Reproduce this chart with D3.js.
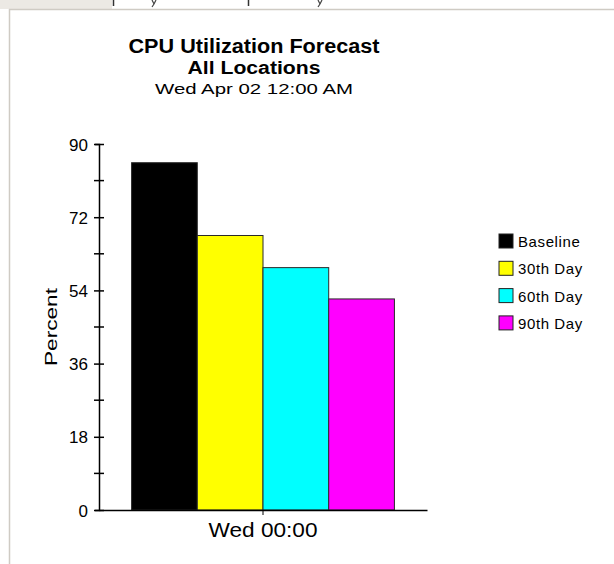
<!DOCTYPE html>
<html>
<head>
<meta charset="utf-8">
<script src="https://cdn.jsdelivr.net/npm/d3@7"></script>
<style>
  body { margin: 0; background: #fff; }
  text { font-family: "Liberation Sans", Arial, sans-serif; fill: #000; }
</style>
</head>
<body>
<svg id="chart"></svg>
<script>
const WIDTH = 614;
const HEIGHT = 564;

// data
const categories = ["Wed 00:00"];
const seriesNames = ["Baseline", "30th Day", "60th Day", "90th Day"];
const seriesValues = [85.4, 67.5, 59.6, 51.9];
const seriesColors = ["#000000", "#ffff00", "#00ffff", "#ff00ff"];
const yTicks = [0, 18, 36, 54, 72, 90];
const yMinorTicks = [9, 27, 45, 63, 81];

const margin = {top: 144, right: 187, bottom: 54, left: 99};

const svg = d3.select("#chart")
    .attr("width", WIDTH)
    .attr("height", HEIGHT);

svg.append("rect").attr("width", WIDTH).attr("height", HEIGHT).attr("fill", "#fff");

// window chrome above the frame (bits of the page header that got cut off)
svg.append("rect").attr("x", 0).attr("y", 0).attr("width", 112).attr("height", 9).attr("fill", "#ece9e4");
[113, 248].forEach(x => {
    svg.append("line").attr("x1", x + 0.5).attr("x2", x + 0.5).attr("y1", 0).attr("y2", 6)
        .attr("stroke", "#333").attr("stroke-width", 1.5);
});
[152, 318].forEach(x => {
    svg.append("path")
        .attr("d", `M${x},0 L${x + 2},4 L${x},7 M${x + 2},4 L${x + 4},0`)
        .attr("fill", "none").attr("stroke", "#444").attr("stroke-width", 1.2);
});

// frame
svg.append("line").attr("x1", 9).attr("x2", WIDTH).attr("y1", 9.5).attr("y2", 9.5)
    .attr("stroke", "#cfcbc4").attr("stroke-width", 1.5);
svg.append("line").attr("x1", 9.5).attr("x2", 9.5).attr("y1", 9).attr("y2", HEIGHT)
    .attr("stroke", "#cfcbc4").attr("stroke-width", 1.5);

// titles
const cx = 254;
svg.append("text").attr("x", cx).attr("y", 53).attr("text-anchor", "middle")
    .attr("textLength", 251).attr("lengthAdjust", "spacingAndGlyphs")
    .style("font-size", "20px").style("font-weight", "bold")
    .text("CPU Utilization Forecast");
svg.append("text").attr("x", cx).attr("y", 74).attr("text-anchor", "middle")
    .attr("textLength", 133).attr("lengthAdjust", "spacingAndGlyphs")
    .style("font-size", "18px").style("font-weight", "bold")
    .text("All Locations");
svg.append("text").attr("x", cx).attr("y", 94).attr("text-anchor", "middle")
    .attr("textLength", 198).attr("lengthAdjust", "spacingAndGlyphs")
    .style("font-size", "14px")
    .text("Wed Apr 02 12:00 AM");

// scales
const x0 = d3.scaleBand()
    .domain(categories)
    .range([margin.left, WIDTH - margin.right])
    .paddingInner(0)
    .paddingOuter(0.124);

const x1 = d3.scaleBand()
    .domain(seriesNames)
    .range([0, x0.bandwidth()]);

const y = d3.scaleLinear()
    .domain([0, 90])
    .range([HEIGHT - margin.bottom, margin.top]);

const color = d3.scaleOrdinal().domain(seriesNames).range(seriesColors);

// bars
const group = svg.selectAll(".cat")
    .data(categories)
    .enter().append("g")
    .attr("class", "cat")
    .attr("transform", d => `translate(${x0(d)},0)`);

group.selectAll("rect")
    .data(seriesNames.map((name, i) => ({name, value: seriesValues[i]})))
    .enter().append("rect")
    .attr("x", d => x1(d.name))
    .attr("y", d => y(d.value))
    .attr("width", x1.bandwidth())
    .attr("height", d => y(0) - y(d.value))
    .attr("fill", d => color(d.name))
    .attr("stroke", "#2a2a2a")
    .attr("stroke-width", 1);

// y axis
const yAxis = d3.axisLeft(y).tickValues(yTicks).tickSize(4).tickPadding(7);
const yAxisEl = svg.append("g")
    .attr("transform", `translate(${margin.left},0)`)
    .call(yAxis);
yAxisEl.select(".domain").attr("stroke", "#000").attr("stroke-width", 1.5);
yAxisEl.selectAll(".tick line").attr("x2", -5).attr("x1", 5).attr("stroke", "#000").attr("stroke-width", 1.5);
yAxisEl.selectAll(".tick text").style("font-size", "17px").style("font-family", "Liberation Sans, Arial, sans-serif").attr("dy", "0.36em");

svg.append("g").selectAll("line")
    .data(yMinorTicks)
    .enter().append("line")
    .attr("x1", margin.left - 5).attr("x2", margin.left + 5)
    .attr("y1", d => y(d)).attr("y2", d => y(d))
    .attr("stroke", "#000").attr("stroke-width", 1.5);

svg.append("text")
    .attr("transform", "rotate(-90)")
    .attr("x", -(margin.top + (HEIGHT - margin.bottom)) / 2)
    .attr("y", 57)
    .attr("text-anchor", "middle")
    .attr("textLength", 78).attr("lengthAdjust", "spacingAndGlyphs")
    .style("font-size", "17px")
    .text("Percent");

// x axis
const xAxis = d3.axisBottom(x0).tickSize(5).tickSizeOuter(0).tickPadding(8);
const xAxisEl = svg.append("g")
    .attr("transform", `translate(0,${y(0)})`)
    .call(xAxis);
xAxisEl.select(".domain").attr("stroke", "#000").attr("stroke-width", 1.5);
xAxisEl.selectAll(".tick line").attr("stroke", "#000");
xAxisEl.selectAll(".tick text")
    .attr("textLength", 109).attr("lengthAdjust", "spacingAndGlyphs")
    .style("font-size", "20px").style("font-family", "Liberation Sans, Arial, sans-serif");

// legend
const legend = svg.append("g").attr("transform", "translate(499,234)");
const item = legend.selectAll(".item")
    .data(seriesNames)
    .enter().append("g")
    .attr("class", "item")
    .attr("transform", (d, i) => `translate(0,${i * 27.3})`);
item.append("rect")
    .attr("width", 14).attr("height", 14)
    .attr("fill", d => color(d))
    .attr("stroke", "#222").attr("stroke-width", 1);
item.append("text")
    .attr("x", 19).attr("y", 13)
    .style("font-size", "15px")
    .style("letter-spacing", "0.6px")
    .text(d => d);
</script>
</body>
</html>
